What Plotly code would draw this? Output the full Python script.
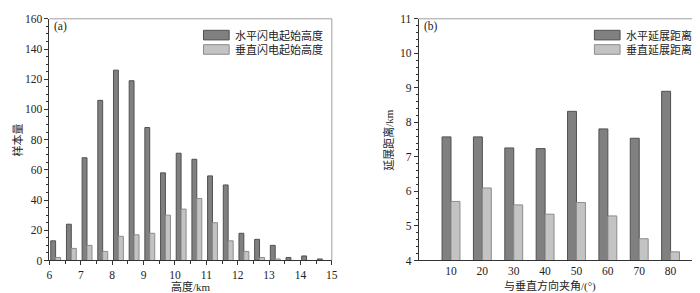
import plotly.graph_objects as go

# ---------------- data ----------------
height_bins = [6.0, 6.5, 7.0, 7.5, 8.0, 8.5, 9.0, 9.5, 10.0, 10.5, 11.0, 11.5, 12.0, 12.5, 13.0, 13.5, 14.0, 14.5]
horiz_init = [13, 24, 68, 106, 126, 119, 88, 58, 71, 67, 56, 50, 18, 14, 10, 2, 3, 1]
vert_init = [2, 8, 10, 6, 16, 17, 18, 30, 34, 41, 25, 13, 6, 2, 1, 0, 0, 0]

angles = [10, 20, 30, 40, 50, 60, 70, 80]
horiz_ext = [7.58, 7.58, 7.26, 7.24, 8.32, 7.81, 7.54, 8.90]
vert_ext = [5.71, 6.10, 5.61, 5.34, 5.68, 5.29, 4.63, 4.25]

left_ticks = [6, 7, 8, 9, 10, 11, 12, 13, 14, 15]
right_ticks = [10, 20, 30, 40, 50, 60, 70, 80]

name_a1, name_a2 = "水平闪电起始高度", "垂直闪电起始高度"
name_b1, name_b2 = "水平延展距离", "垂直延展距离"

# ---------------- style ----------------
W, H = 700, 293
FONT = "'Liberation Serif', 'Noto Sans CJK SC', serif"
DARK, DARK_EDGE = "#808080", "#505050"
LIGHT, LIGHT_EDGE = "#c3c3c3", "#8c8c8c"
AX = "#333333"
BORDER = "#a0a0a0"
TXT = "#222222"

def px(x):
    return x / W

def py(y):
    return 1 - y / H

L1, R1 = 39, 325
L2, R2 = 413, 699
TOP, BOT = 5, 257

fig = go.Figure()

fig.add_trace(go.Bar(x=height_bins, y=horiz_init, name=name_a1, offset=0.04, width=0.155,
                     marker=dict(color=DARK, line=dict(color=DARK_EDGE, width=1)),
                     xaxis="x", yaxis="y", showlegend=False))
fig.add_trace(go.Bar(x=height_bins, y=vert_init, name=name_a2, offset=0.195, width=0.16,
                     marker=dict(color=LIGHT, line=dict(color=LIGHT_EDGE, width=1)),
                     xaxis="x", yaxis="y", showlegend=False))
fig.add_trace(go.Bar(x=angles, y=horiz_ext, name=name_b1, offset=-2.85, width=2.85,
                     marker=dict(color=DARK, line=dict(color=DARK_EDGE, width=1)),
                     xaxis="x2", yaxis="y2", showlegend=False))
fig.add_trace(go.Bar(x=angles, y=vert_ext, name=name_b2, offset=0.0, width=2.85,
                     marker=dict(color=LIGHT, line=dict(color=LIGHT_EDGE, width=1)),
                     xaxis="x2", yaxis="y2", showlegend=False))

tickfont = dict(family=FONT, size=11.5, color=TXT)
common_axis = dict(showgrid=False, zeroline=False, showline=True, linecolor=AX, linewidth=1,
                   tickfont=tickfont, tickcolor=AX, ticks="outside", ticklen=4,
                   ticklabeloverflow="allow")

fig.update_layout(
    width=W, height=H,
    margin=dict(l=0, r=0, t=0, b=0),
    paper_bgcolor="white", plot_bgcolor="white",
    barmode="overlay",
    font=dict(family=FONT, size=11, color=TXT),
    xaxis=dict(domain=[px(L1), px(R1)], range=[6, 15], tickvals=left_ticks, anchor="y",
               minor=dict(dtick=0.5, tick0=6, ticks="outside", ticklen=3, tickcolor=AX),
               **common_axis),
    yaxis=dict(domain=[py(BOT), py(TOP)], range=[0, 160], dtick=20, anchor="x",
               minor=dict(dtick=5, ticks="outside", ticklen=2, tickcolor=AX),
               **common_axis),
    xaxis2=dict(domain=[px(L2), px(R2)], range=[-0.3, 89.7], tickvals=right_ticks, anchor="y2",
                **{**common_axis, "ticks": ""}),
    yaxis2=dict(domain=[py(BOT), py(TOP)], range=[4, 11], dtick=1, anchor="x2",
                minor=dict(dtick=0.2, ticks="outside", ticklen=2, tickcolor=AX),
                **common_axis),
)

shapes = []
# top and right light borders
for l, r in [(L1, R1), (L2, R2)]:
    shapes.append(dict(type="line", xref="paper", yref="paper", x0=px(l), x1=px(r), y0=py(TOP), y1=py(TOP),
                       line=dict(color=BORDER, width=1)))
    shapes.append(dict(type="line", xref="paper", yref="paper", x0=px(r), x1=px(r), y0=py(TOP), y1=py(BOT),
                       line=dict(color=BORDER, width=1)))

annotations = []
# legends drawn as swatches + text
legend_specs = [
    (195, name_a1, name_a2),
    (591, name_b1, name_b2),
]
for lx, n1, n2 in legend_specs:
    for (y0, y1), name, col, edge in [((17, 27), n1, DARK, DARK_EDGE), ((32, 42), n2, LIGHT, LIGHT_EDGE)]:
        shapes.append(dict(type="rect", xref="paper", yref="paper", x0=px(lx), x1=px(lx + 26),
                           y0=py(y1), y1=py(y0), fillcolor=col, line=dict(color=edge, width=1)))
        annotations.append(dict(xref="paper", yref="paper", x=px(lx + 30), y=py((y0 + y1) / 2),
                                text=name, showarrow=False, xanchor="left", yanchor="middle",
                                font=dict(family=FONT, size=11, color=TXT)))

# panel labels
annotations.append(dict(xref="paper", yref="paper", x=px(42), y=py(13), text="(a)", showarrow=False,
                        xanchor="left", yanchor="middle", font=dict(family=FONT, size=11.5, color=TXT)))
annotations.append(dict(xref="paper", yref="paper", x=px(416), y=py(13), text="(b)", showarrow=False,
                        xanchor="left", yanchor="middle", font=dict(family=FONT, size=11.5, color=TXT)))
# axis titles
annotations.append(dict(xref="paper", yref="paper", x=px(182), y=py(284), text="高度/km", showarrow=False,
                        xanchor="center", yanchor="middle", font=dict(family=FONT, size=11, color=TXT)))
annotations.append(dict(xref="paper", yref="paper", x=px(546), y=py(284), text="与垂直方向夹角/(°)", showarrow=False,
                        xanchor="center", yanchor="middle", font=dict(family=FONT, size=11, color=TXT)))
annotations.append(dict(xref="paper", yref="paper", x=px(7), y=py(131), text="样本量", showarrow=False,
                        textangle=-90, xanchor="center", yanchor="middle", font=dict(family=FONT, size=11, color=TXT)))
annotations.append(dict(xref="paper", yref="paper", x=px(383), y=py(131), text="延展距离/km", showarrow=False,
                        textangle=-90, xanchor="center", yanchor="middle", font=dict(family=FONT, size=11, color=TXT)))

fig.update_layout(shapes=shapes, annotations=annotations)

fig.write_html("out.html")
